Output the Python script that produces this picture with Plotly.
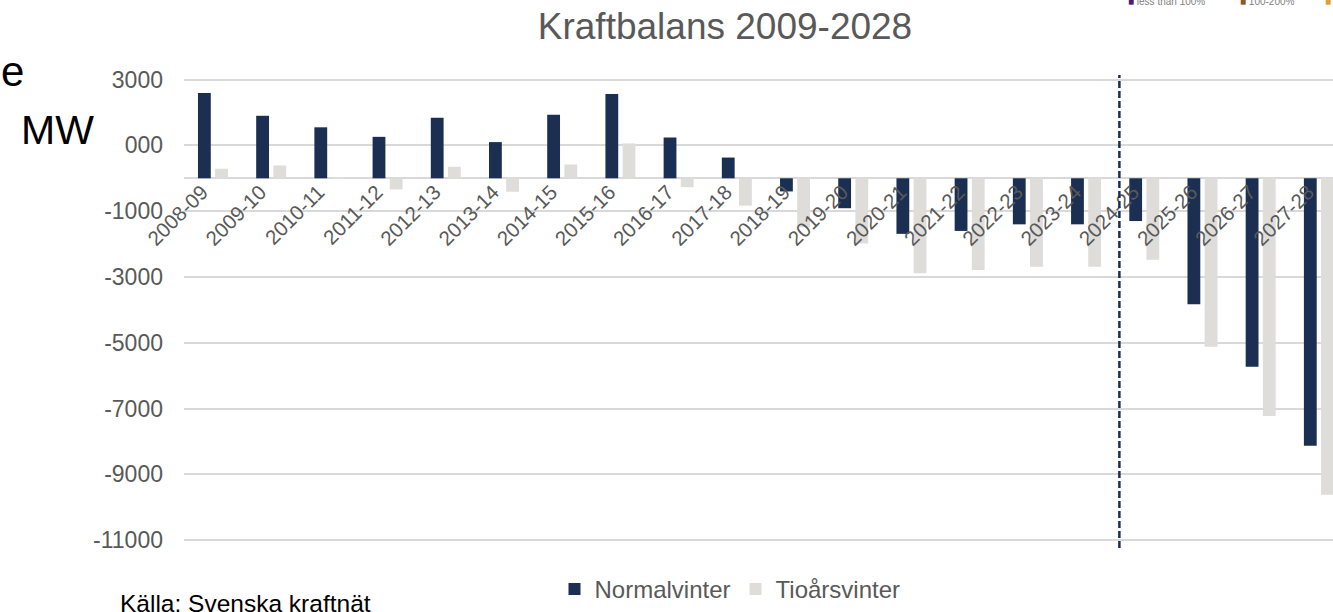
import plotly.graph_objects as go

categories = ["2008-09", "2009-10", "2010-11", "2011-12", "2012-13", "2013-14", "2014-15",
              "2015-16", "2016-17", "2017-18", "2018-19", "2019-20", "2020-21", "2021-22",
              "2022-23", "2023-24", "2024-25", "2025-26", "2026-27", "2027-28"]
normalvinter = [2590, 1900, 1550, 1260, 1840, 1100, 1930, 2560, 1240, 630,
                -400, -910, -1690, -1600, -1400, -1400, -1300, -3830, -5730, -8130]
tioarsvinter = [290, 390, 30, -340, 350, -410, 420, 1060, -270, -830,
                -1490, -1980, -2890, -2790, -2690, -2690, -2480, -5120, -7230, -9620]
y_tickvals = [3000, 1000, -1000, -3000, -5000, -7000, -9000, -11000]
y_ticktext = ["3000", "000", "-1000", "-3000", "-5000", "-7000", "-9000", "-11000"]
forecast_start = 15.57  # position of the dashed divider (category index units)

FONT = "Arial, Liberation Sans, sans-serif"
NAVY = "#1B2F52"
GREY = "#DEDDDA"

YMIN, YMAX = -11240, 3140

fig = go.Figure()
fig.add_trace(go.Bar(x=categories, y=normalvinter, name="Normalvinter",
                     marker=dict(color=NAVY, line=dict(width=0)),
                     offset=-0.26, width=0.22))
fig.add_trace(go.Bar(x=categories, y=tioarsvinter, name="Tioårsvinter",
                     marker=dict(color=GREY, line=dict(width=0)),
                     offset=0.035, width=0.22))

fig.add_shape(type="line", xref="x", yref="paper", x0=forecast_start, x1=forecast_start,
              y0=0, y1=1, line=dict(color=NAVY, width=2.5, dash="7px,3px"), layer="above")

fig.update_layout(
    width=1333, height=612,
    margin=dict(l=184, r=0, t=75, b=64),
    paper_bgcolor="white", plot_bgcolor="white",
    barmode="group",
    title=dict(text="Kraftbalans 2009-2028", x=725 / 1333, xanchor="center",
               y=1 - 26 / 612, yanchor="middle", yref="container", xref="container",
               font=dict(family=FONT, size=37, color="#595959")),
    xaxis=dict(type="category", range=[-0.5, 19.24], anchor="free",
               position=(0 - YMIN) / (YMAX - YMIN),
               tickangle=-45, showgrid=False, showline=False, ticks="",
               ticklabelshift=-11, ticklabelstandoff=-3,
               tickfont=dict(family=FONT, size=20.5, color="#595959"), fixedrange=True),
    yaxis=dict(range=[YMIN, YMAX], tickvals=y_tickvals, ticktext=y_ticktext,
               showgrid=True, gridcolor="#D9D9D9", gridwidth=1.5,
               zeroline=True, zerolinecolor="#D9D9D9", zerolinewidth=1.5,
               showline=False, ticks="", ticklabelstandoff=20,
               tickfont=dict(family=FONT, size=23, color="#595959")),
    showlegend=True,
    legend=dict(orientation="h", x=(730 - 184) / 1149, xanchor="center",
                y=1 - (590 - 75) / 473, yanchor="middle",
                font=dict(family=FONT, size=24, color="#595959"),
                itemwidth=30, bgcolor="rgba(0,0,0,0)"),
)


def px_x(px):
    return (px - 184) / 1149


def px_y(py):
    return 1 - (py - 75) / 473


fig.add_annotation(text="MW", xref="paper", yref="paper", x=px_x(58), y=px_y(130),
                   showarrow=False, xanchor="center", yanchor="middle",
                   font=dict(family=FONT, size=41, color="black"))
fig.add_annotation(text="e", xref="paper", yref="paper", x=px_x(26), y=px_y(72),
                   showarrow=False, xanchor="right", yanchor="middle",
                   font=dict(family=FONT, size=42, color="black"))
fig.add_annotation(text="Källa: Svenska kraftnät", xref="paper", yref="paper",
                   x=px_x(118), y=px_y(603), showarrow=False, xanchor="left", yanchor="middle",
                   font=dict(family=FONT, size=24.5, color="black"))
fig.add_annotation(text="<span style='color:#4B1F6F'>■</span> less than 100%", xref="paper", yref="paper",
                   x=px_x(1126), y=px_y(1), showarrow=False, xanchor="left", yanchor="middle",
                   font=dict(family=FONT, size=10, color="#7F7F7F"))
fig.add_annotation(text="<span style='color:#8B5A2B'>■</span> 100-200%", xref="paper", yref="paper",
                   x=px_x(1238), y=px_y(1), showarrow=False, xanchor="left", yanchor="middle",
                   font=dict(family=FONT, size=10, color="#7F7F7F"))
fig.add_annotation(text="<span style='color:#E0A030'>■</span>", xref="paper", yref="paper",
                   x=px_x(1323), y=px_y(1), showarrow=False, xanchor="left", yanchor="middle",
                   font=dict(family=FONT, size=10, color="#7F7F7F"))

fig.write_html("out.html", config={"displayModeBar": False},
               post_script="document.body.style.margin='0';")
